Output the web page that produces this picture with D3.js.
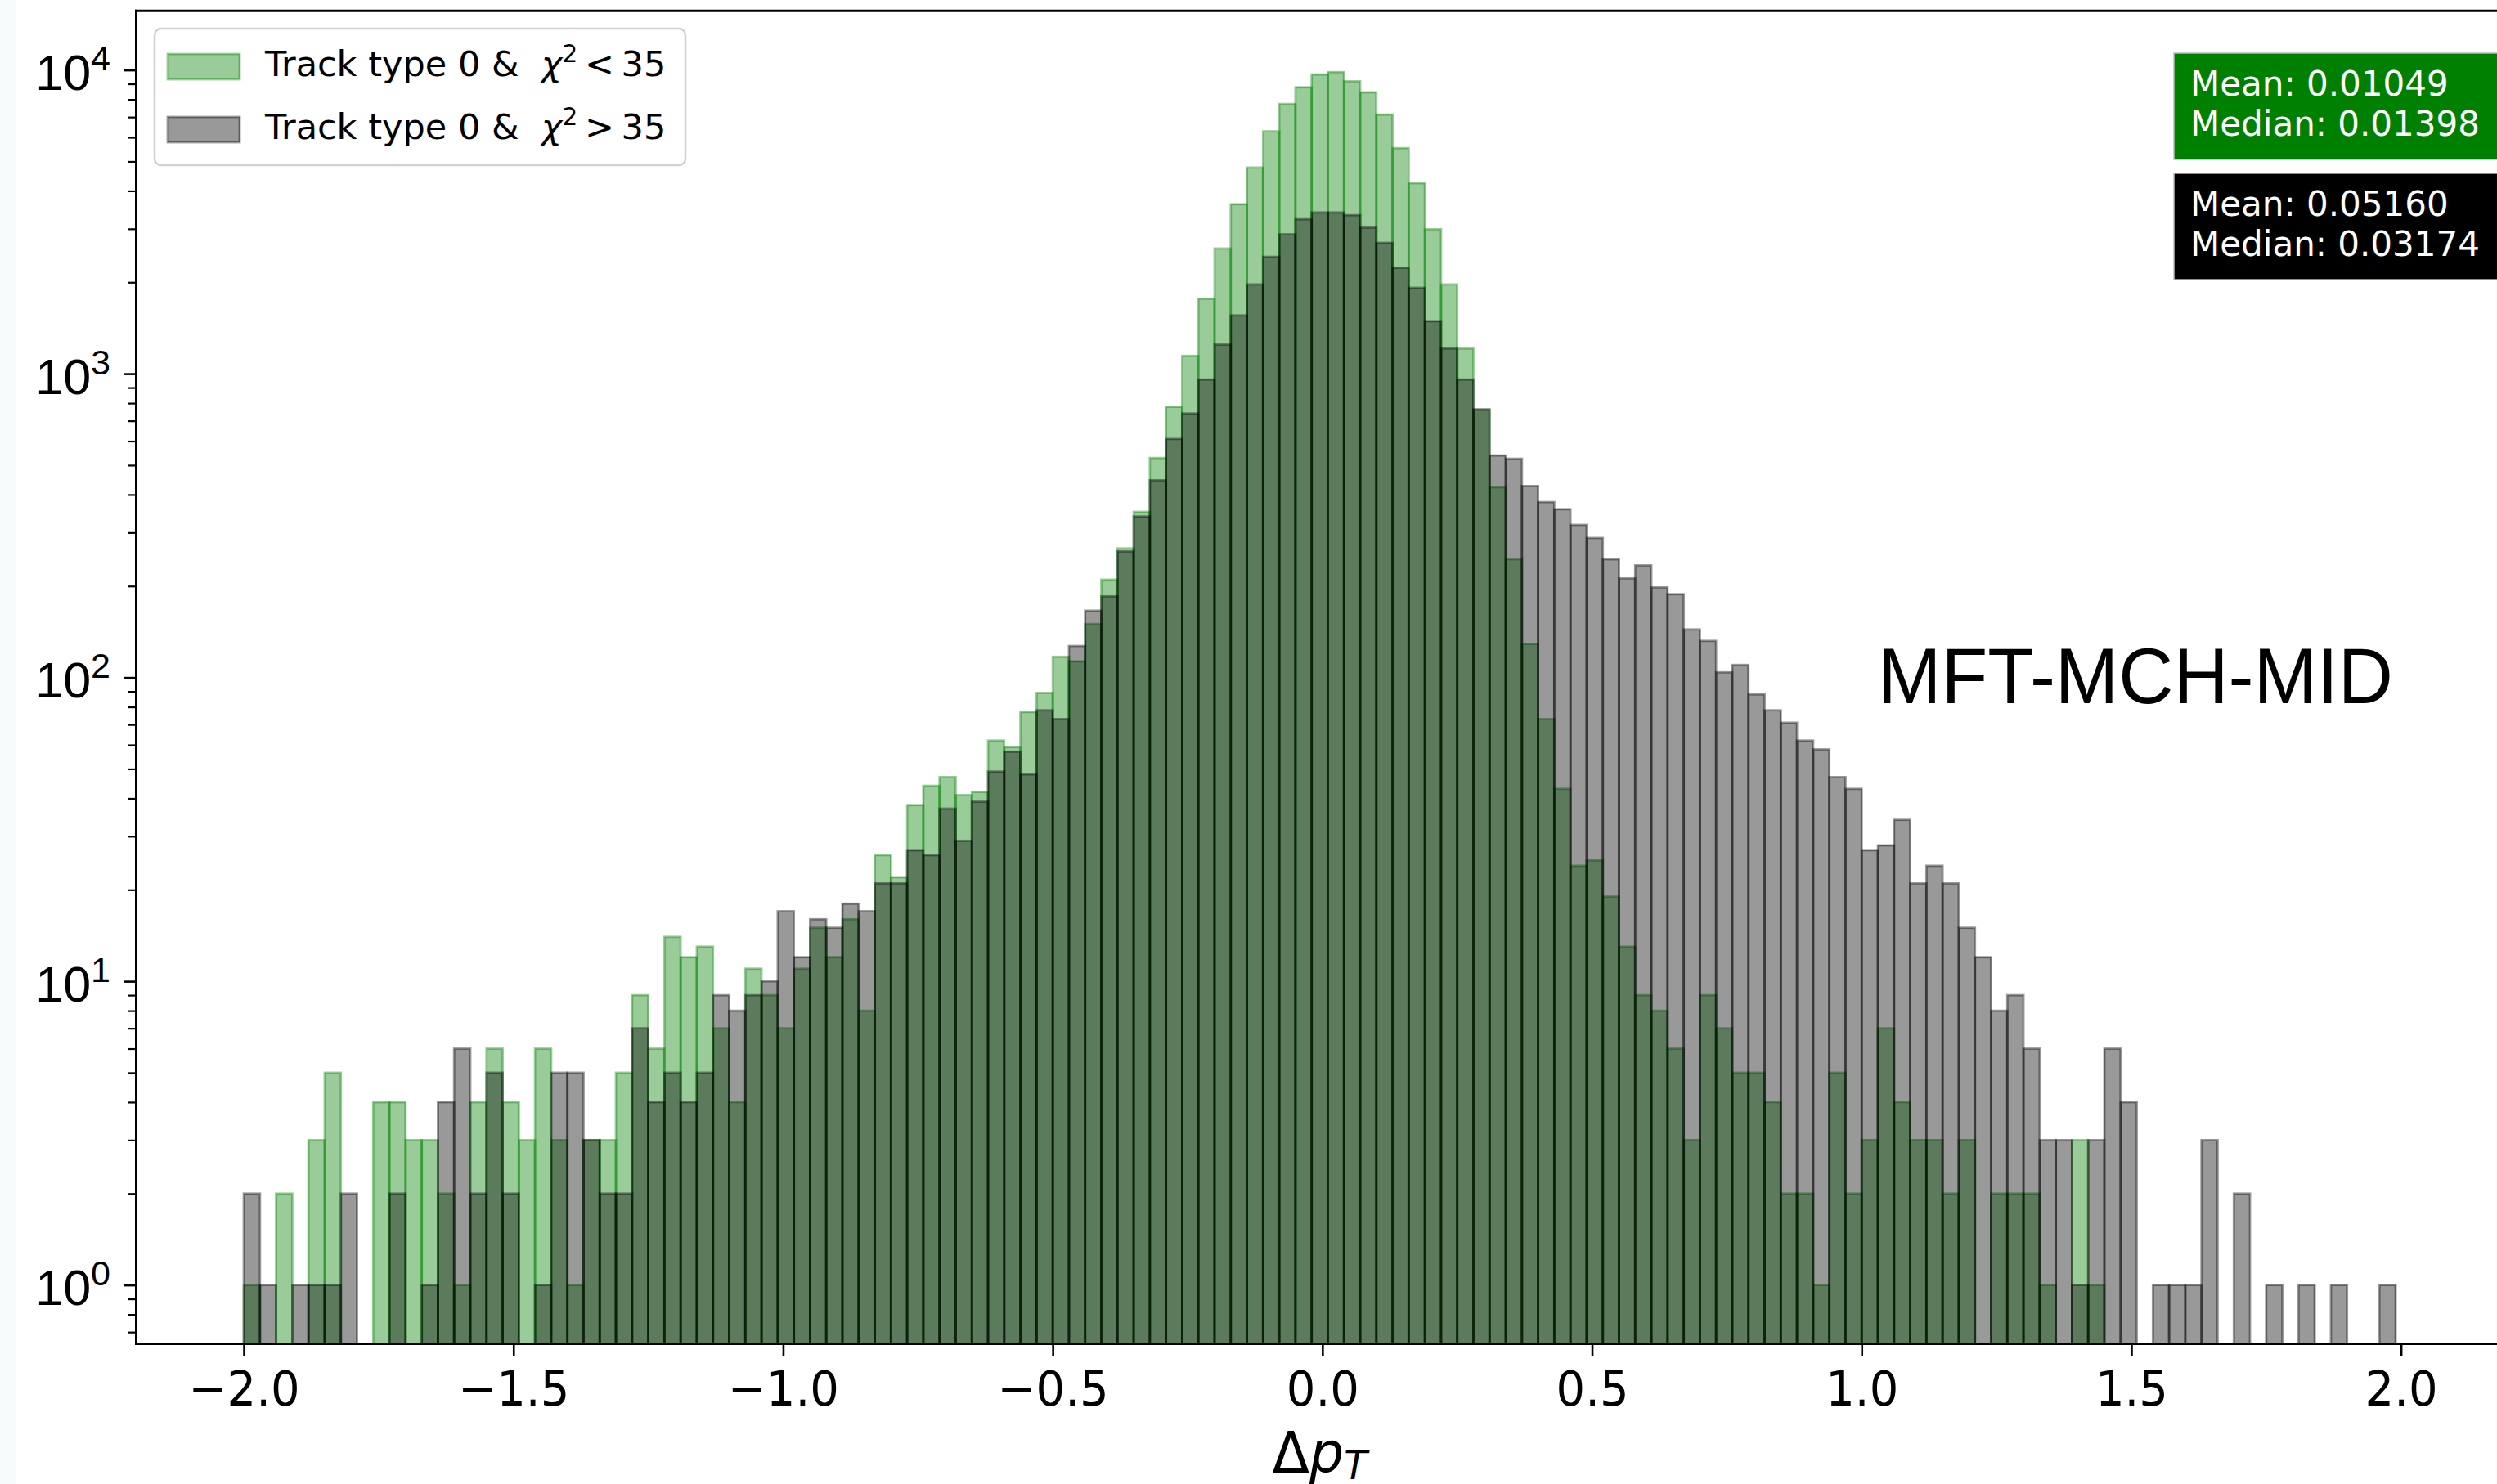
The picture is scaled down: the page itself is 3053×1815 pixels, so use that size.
<!DOCTYPE html>
<html>
<head>
<meta charset="utf-8">
<script src="https://cdn.jsdelivr.net/npm/d3@7"></script>
<style>
  html, body { margin: 0; padding: 0; background: #fff; }
  svg { display: block; font-family: "DejaVu Sans", sans-serif; }
</style>
</head>
<body>
<div id="vis-display"></div>
<script>
// Δp_T histogram on a log axis: track type 0 split by a χ² < 35 / > 35 cut.
// Bins are 0.03 wide, starting at −2.0 (133 bins, last edge 1.99).

const BIN_START = -2.0;
const BIN_WIDTH = 0.03;

// counts per bin
const COUNTS_CHI2_LOW = [
  1, 0, 2, 0, 3, 5, 0, 0, 4, 4,
  3, 3, 2, 1, 4, 6, 4, 3, 6, 3,
  1, 3, 3, 5, 9, 6, 14, 12, 13, 7,
  4, 11, 9, 7, 11, 15, 12, 16, 8, 26,
  22, 38, 44, 47, 41, 42, 62, 59, 77, 89,
  117, 113, 150, 210, 266, 351, 528, 778, 1145, 1766,
  2584, 3614, 4775, 6281, 7730, 8770, 9660, 9840, 9180, 8440,
  7130, 5530, 4240, 2990, 1968, 1210, 760, 423, 245, 129,
  73, 43, 24, 25, 19, 13, 9, 8, 6, 3,
  9, 7, 5, 5, 4, 2, 2, 1, 5, 2,
  3, 7, 4, 3, 3, 2, 3, 0, 2, 2,
  2, 1, 0, 3, 1, 0, 0, 0, 0, 0,
  0, 0, 0, 0, 0, 0, 0, 0, 0, 0,
  0, 0, 0
];

const COUNTS_CHI2_HIGH = [
  2, 1, 0, 1, 1, 1, 2, 0, 0, 2,
  0, 1, 4, 6, 2, 5, 2, 0, 1, 5,
  5, 3, 2, 2, 7, 4, 5, 4, 5, 9,
  8, 9, 10, 17, 12, 16, 15, 18, 17, 21,
  21, 27, 26, 37, 29, 39, 49, 57, 48, 78,
  73, 127, 166, 185, 260, 339, 446, 610, 740, 957,
  1247, 1556, 1968, 2426, 2878, 3226, 3396, 3396, 3327, 3027,
  2698, 2233, 1918, 1489, 1211, 957, 764, 538, 525, 427,
  378, 358, 318, 288, 245, 212, 234, 198, 188, 144,
  132, 104, 110, 88, 78, 71, 62, 58, 47, 43,
  27, 28, 34, 21, 24, 21, 15, 12, 8, 9,
  6, 3, 3, 1, 3, 6, 4, 0, 1, 1,
  1, 3, 0, 2, 0, 1, 0, 1, 0, 1,
  0, 0, 1
];

const X_TICKS   = [-2.0, -1.5, -1.0, -0.5, 0.0, 0.5, 1.0, 1.5, 2.0];
const Y_DECADES = [0, 1, 2, 3, 4];

const SERIES = [
  { name: "Track type 0 &", op: "<", cut: 35, counts: COUNTS_CHI2_LOW,  color: "green",
    stats: ["Mean: 0.01049", "Median: 0.01398"], box: "#008000" },
  { name: "Track type 0 &", op: ">", cut: 35, counts: COUNTS_CHI2_HIGH, color: "black",
    stats: ["Mean: 0.05160", "Median: 0.03174"], box: "#000000" },
];

const DETECTOR_LABEL = "MFT-MCH-MID";

draw();

function draw() {
  const W = 3053, H = 1815;
  const P = { left: 166.5, right: 3060.6, top: 13.3, bottom: 1643.5 };

  const svg = d3.select("#vis-display").append("svg")
    .attr("width", W).attr("height", H);

  // faint strip on the left edge of the original
  svg.append("rect").attr("x", 0).attr("y", 0).attr("width", 20).attr("height", H)
    .attr("fill", "#f6fbfb");

  // ── Scales ────────────────────────────────────────────────────────────────

  const x = d3.scaleLinear().domain([-2.1995, 2.1895]).range([P.left, P.right]);
  const y = d3.scaleLog().domain([Math.pow(10, -0.1935), Math.pow(10, 4.1946)])
    .range([P.bottom, P.top]);

  svg.append("defs").append("clipPath").attr("id", "plot-clip")
    .append("rect")
      .attr("x", P.left).attr("y", P.top)
      .attr("width", P.right - P.left).attr("height", P.bottom - P.top);

  // ── Bars ──────────────────────────────────────────────────────────────────

  const bars = svg.append("g").attr("clip-path", "url(#plot-clip)");

  SERIES.forEach(s => {
    const bins = s.counts
      .map((c, i) => ({ x0: BIN_START + i * BIN_WIDTH, x1: BIN_START + (i + 1) * BIN_WIDTH, c }))
      .filter(d => d.c > 0);

    bars.append("g")
      .selectAll("rect")
      .data(bins)
      .join("rect")
        .attr("x", d => x(d.x0))
        .attr("width", d => x(d.x1) - x(d.x0))
        .attr("y", d => y(d.c))
        .attr("height", d => P.bottom + 5 - y(d.c))
        .attr("fill", s.color).attr("fill-opacity", 0.4)
        .attr("stroke", s.color).attr("stroke-opacity", 0.4)
        .attr("stroke-width", 2.8);
  });

  // ── Axes ──────────────────────────────────────────────────────────────────

  const fmtX = d3.format(".1f");

  svg.append("g")
    .attr("transform", `translate(0,${P.bottom})`)
    .call(d3.axisBottom(x).tickValues(X_TICKS).tickSize(15).tickPadding(19).tickFormat(fmtX))
    .call(ax => ax.select(".domain").remove())
    .call(ax => ax.selectAll(".tick line").attr("stroke", "#000").attr("stroke-width", 2.6))
    .selectAll("text")
      .attr("fill", "#000")
      .style("font-size", "59px")
      .style("font-family", "DejaVu Sans")
      .attr("transform", "scale(0.95,1)");

  // minor log ticks
  const minor = y.ticks().filter(v => !Y_DECADES.some(k => Math.abs(v - Math.pow(10, k)) < 1e-9));

  svg.append("g")
    .attr("transform", `translate(${P.left},0)`)
    .call(d3.axisLeft(y).tickValues(minor).tickSize(10).tickFormat(""))
    .call(ax => ax.select(".domain").remove())
    .call(ax => ax.selectAll(".tick line").attr("stroke", "#000").attr("stroke-width", 2.2));

  const yMajor = svg.append("g")
    .attr("transform", `translate(${P.left},0)`)
    .call(d3.axisLeft(y).tickValues(Y_DECADES.map(k => Math.pow(10, k))).tickSize(15).tickFormat(""))
    .call(ax => ax.select(".domain").remove())
    .call(ax => ax.selectAll(".tick line").attr("stroke", "#000").attr("stroke-width", 2.6));

  yMajor.selectAll(".tick").each(function(d) {
    const k = Math.round(Math.log10(d));
    const t = d3.select(this).select("text")
      .text(null)
      .attr("x", -31.5)
      .attr("dy", null)
      .attr("y", 24)
      .attr("text-anchor", "end")
      .attr("fill", "#000")
      .style("font-size", "61px");
    t.append("tspan").text("10");
    t.append("tspan").attr("dy", -24).style("font-size", "43px").text(k);
  });

  // spines
  const spines = svg.append("g").attr("stroke", "#000").attr("stroke-width", 3)
    .attr("stroke-linecap", "square");
  spines.append("line").attr("x1", P.left).attr("x2", P.left).attr("y1", P.top).attr("y2", P.bottom);
  spines.append("line").attr("x1", P.left).attr("x2", P.right).attr("y1", P.bottom).attr("y2", P.bottom);
  spines.append("line").attr("x1", P.left).attr("x2", P.right).attr("y1", P.top).attr("y2", P.top);
  spines.append("line").attr("x1", P.right).attr("x2", P.right).attr("y1", P.top).attr("y2", P.bottom);

  // x label: Δp_T
  const xl = svg.append("g")
    .attr("transform", `translate(${(P.left + P.right) / 2},1801) scale(0.95,1)`)
    .append("text")
      .attr("text-anchor", "middle")
      .style("font-size", "70px");
  xl.append("tspan").text("Δ");
  xl.append("tspan").style("font-style", "italic").text("p");
  xl.append("tspan").style("font-style", "italic").style("font-size", "49px").attr("dy", 8).text("T");

  // ── Legend ────────────────────────────────────────────────────────────────

  const legend = svg.append("g");
  legend.append("rect")
    .attr("x", 189).attr("y", 35).attr("width", 649).attr("height", 167)
    .attr("rx", 8)
    .attr("fill", "#fff").attr("fill-opacity", 0.8)
    .attr("stroke", "#d0d0d0").attr("stroke-width", 2.5);

  SERIES.forEach((s, i) => {
    const row = legend.append("g").attr("transform", `translate(0,${i * 77})`);
    row.append("rect")
      .attr("x", 205).attr("y", 66).attr("width", 88).attr("height", 31)
      .attr("fill", s.color).attr("fill-opacity", 0.4)
      .attr("stroke", s.color).attr("stroke-opacity", 0.4).attr("stroke-width", 2.8);
    const t = row.append("text")
      .attr("x", 324).attr("y", 93)
      .style("font-size", "43px");
    t.append("tspan").text(s.name + "\u00a0\u00a0");
    t.append("tspan").style("font-style", "italic").text("χ");
    t.append("tspan").attr("dy", -17).style("font-size", "30px").text("2");
    t.append("tspan").attr("dy", 17).text(`\u2009${s.op}\u2009${s.cut}`);
  });

  // ── Stat boxes ────────────────────────────────────────────────────────────

  SERIES.forEach((s, i) => {
    const top = 65 + i * 147;
    svg.append("rect")
      .attr("x", 2658).attr("y", top).attr("width", 460).attr("height", 130)
      .attr("fill", s.box).attr("stroke", "#bbb").attr("stroke-width", 1.5);
    s.stats.forEach((line, j) => {
      svg.append("text")
        .attr("x", 2678).attr("y", top + 52 + j * 49)
        .attr("fill", "#fff")
        .style("font-size", "42px")
        .text(line);
    });
  });

  // ── Detector label ────────────────────────────────────────────────────────

  svg.append("text")
    .attr("x", 2296).attr("y", 860)
    .attr("textLength", 630).attr("lengthAdjust", "spacingAndGlyphs")
    .style("font-family", "'Liberation Sans', Arial, sans-serif")
    .style("font-size", "96px")
    .attr("fill", "#000")
    .text(DETECTOR_LABEL);
}
</script>
</body>
</html>
